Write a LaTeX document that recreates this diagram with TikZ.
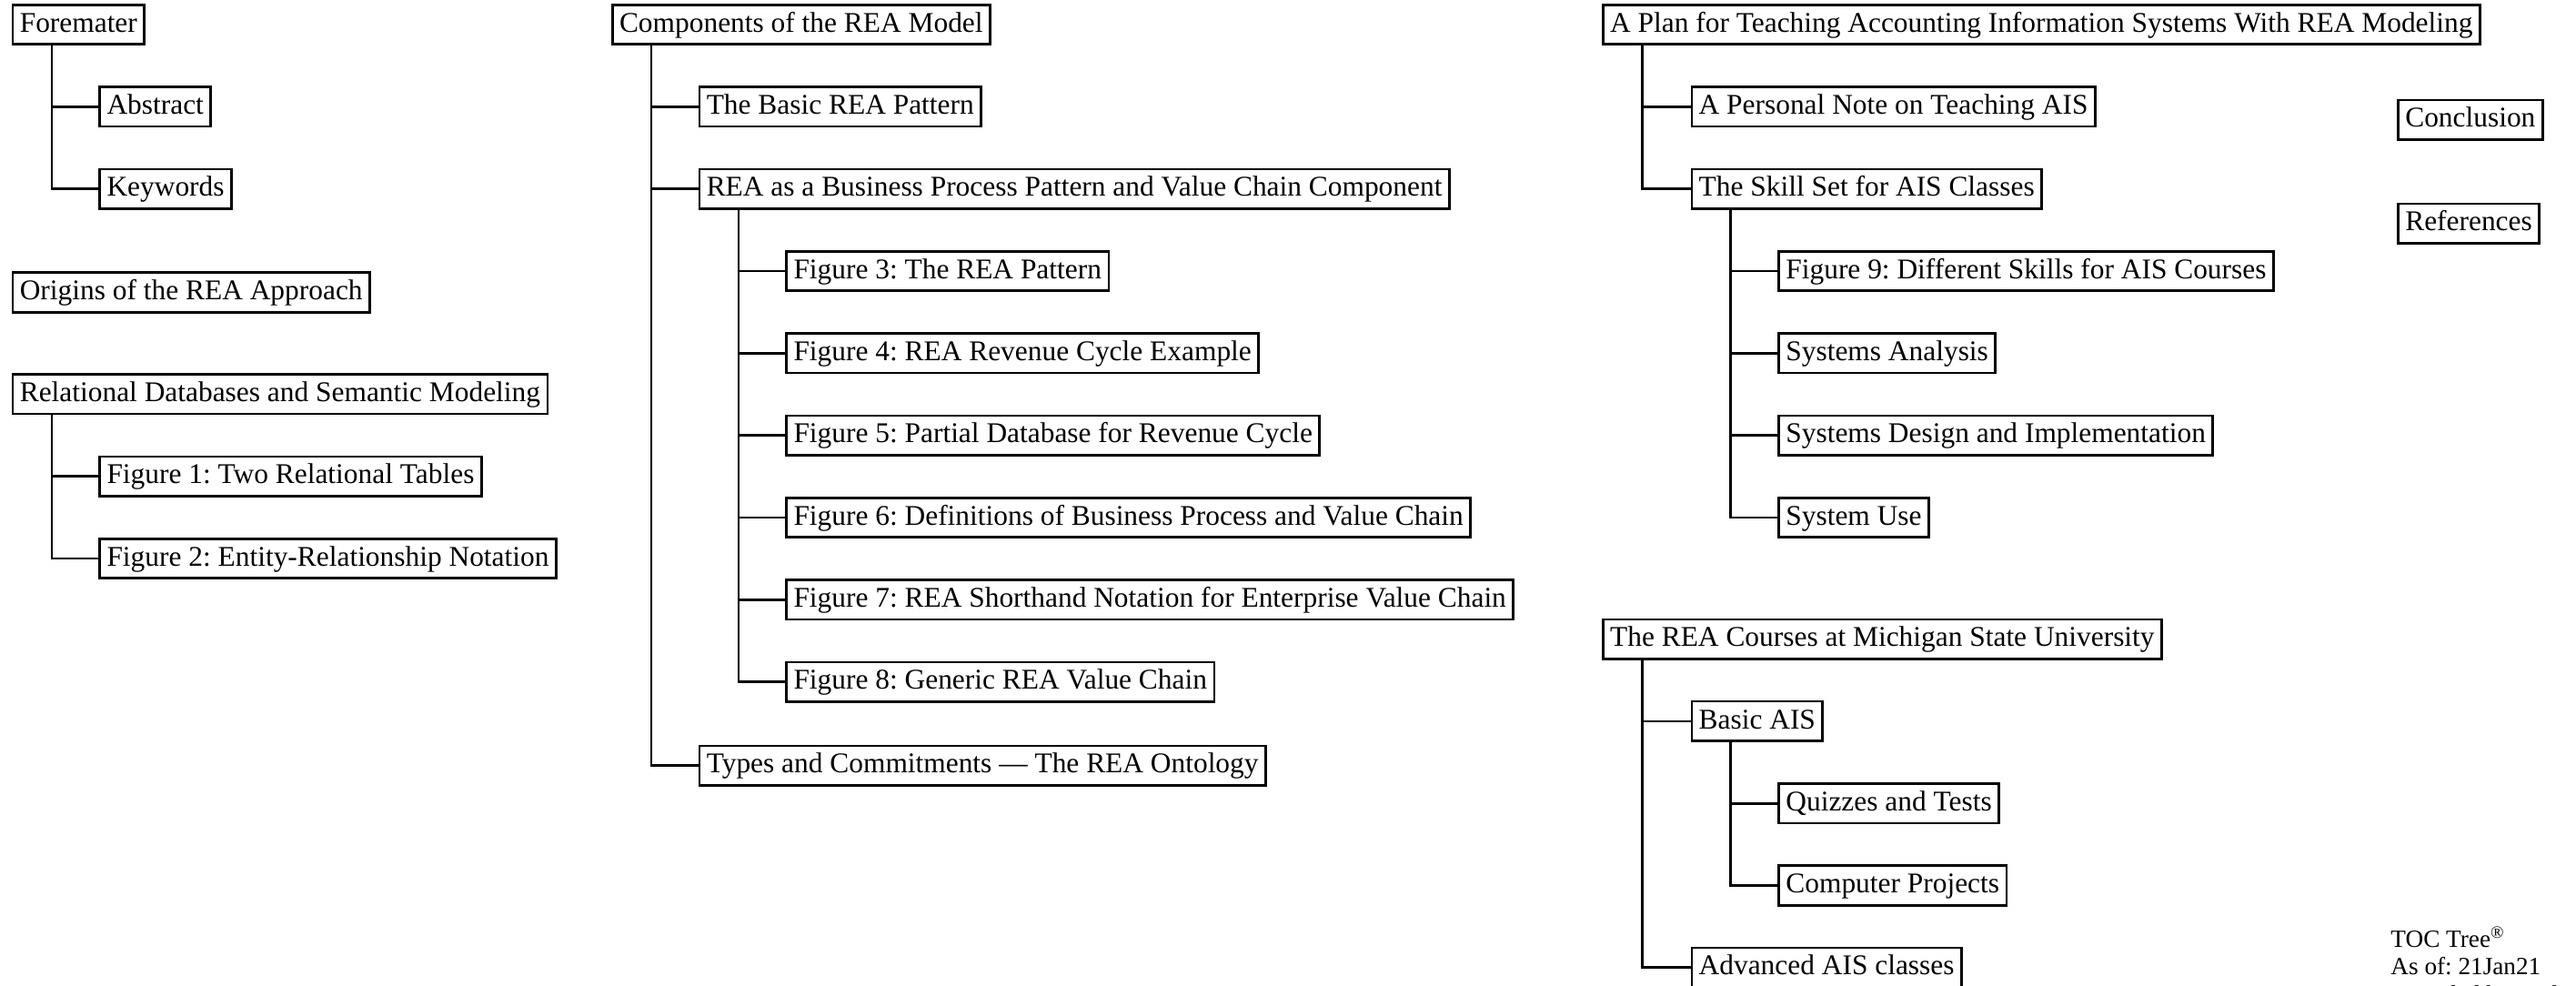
\documentclass[tikz,border=0pt]{standalone}
\usepackage{fontspec}
\setmainfont{Liberation Serif}
\usepackage{tikz}
\usetikzlibrary{positioning}
\frenchspacing

\begin{document}
\begin{tikzpicture}[x=0.69pt, y=-0.69pt,
    tocbox/.style={rectangle, draw, line width=1pt, inner xsep=3pt, inner ysep=0pt, text height=9pt, text depth=2.8pt, minimum height=16.6pt, anchor=west, font=\fontsize{12}{14}\selectfont},
    link/.style={line width=1pt}]
    \useasboundingbox (0,0) rectangle (1568,600);

    % Nodes - first column
    \node (fore) [tocbox] at (7,15) {Foremater};
    \node (abstract) [tocbox] at (60,65) {Abstract};
    \node (keywords) [tocbox] at (60,115) {Keywords};
    \node (origins) [tocbox] at (7,178) {Origins of the REA Approach};
    \node (reldb) [tocbox] at (7,240) {Relational Databases and Semantic Modeling};
    \node (fig1) [tocbox] at (60,290) {Figure 1: Two Relational Tables};
    \node (fig2) [tocbox] at (60,340) {Figure 2: Entity-Relationship Notation};

    % Nodes - second column
    \node (comp) [tocbox] at (372,15) {Components of the REA Model};
    \node (basic) [tocbox] at (425,65) {The Basic REA Pattern};
    \node (bizproc) [tocbox] at (425,115) {REA as a Business Process Pattern and Value Chain Component};
    \node (fig3) [tocbox] at (478,165) {Figure 3: The REA Pattern};
    \node (fig4) [tocbox] at (478,215) {Figure 4: REA Revenue Cycle Example};
    \node (fig5) [tocbox] at (478,265) {Figure 5: Partial Database for Revenue Cycle};
    \node (fig6) [tocbox] at (478,315) {Figure 6: Definitions of Business Process and Value Chain};
    \node (fig7) [tocbox] at (478,365) {Figure 7: REA Shorthand Notation for Enterprise Value Chain};
    \node (fig8) [tocbox] at (478,415) {Figure 8: Generic REA Value Chain};
    \node (types) [tocbox] at (425,466) {Types and Commitments --- The REA Ontology};

    % Nodes - third column
    \node (plan) [tocbox] at (975,15) {A Plan for Teaching Accounting Information Systems With REA Modeling};
    \node (note) [tocbox] at (1029,65) {A Personal Note on Teaching AIS};
    \node (skills) [tocbox] at (1029,115) {The Skill Set for AIS Classes};
    \node (fig9) [tocbox] at (1082,165) {Figure 9: Different Skills for AIS Courses};
    \node (sysanal) [tocbox] at (1082,215) {Systems Analysis};
    \node (sysdesign) [tocbox] at (1082,265) {Systems Design and Implementation};
    \node (sysuse) [tocbox] at (1082,315) {System Use};
    \node (courses) [tocbox] at (975,389) {The REA Courses at Michigan State University};
    \node (basicais) [tocbox] at (1029,439) {Basic AIS};
    \node (quizzes) [tocbox] at (1082,489) {Quizzes and Tests};
    \node (projects) [tocbox] at (1082,539) {Computer Projects};
    \node (advanced) [tocbox] at (1029,589) {Advanced AIS classes};

    % Nodes - right margin
    \node (concl) [tocbox] at (1459,73) {Conclusion};
    \node (refs) [tocbox] at (1459,136) {References};
    \node (stamp) [anchor=north west, inner sep=0pt, align=left, font=\fontsize{10.4}{11.7}\selectfont] at (1455,564)
        {TOC Tree\textsuperscript{\textregistered}\\As of: 21Jan21\\Provided by: Intl. Pat.};

    % Edges
    \foreach \c in {abstract,keywords}
        \draw[link] (fore.south west) ++(24.5,0) |- (\c.west);
    \foreach \c in {fig1,fig2}
        \draw[link] (reldb.south west) ++(24.5,0) |- (\c.west);
    \foreach \c in {basic,bizproc,types}
        \draw[link] (comp.south west) ++(24.5,0) |- (\c.west);
    \foreach \c in {fig3,fig4,fig5,fig6,fig7,fig8}
        \draw[link] (bizproc.south west) ++(24.5,0) |- (\c.west);
    \foreach \c in {note,skills}
        \draw[link] (plan.south west) ++(24.5,0) |- (\c.west);
    \foreach \c in {fig9,sysanal,sysdesign,sysuse}
        \draw[link] (skills.south west) ++(24.5,0) |- (\c.west);
    \foreach \c in {basicais,advanced}
        \draw[link] (courses.south west) ++(24.5,0) |- (\c.west);
    \foreach \c in {quizzes,projects}
        \draw[link] (basicais.south west) ++(24.5,0) |- (\c.west);
\end{tikzpicture}
\end{document}
